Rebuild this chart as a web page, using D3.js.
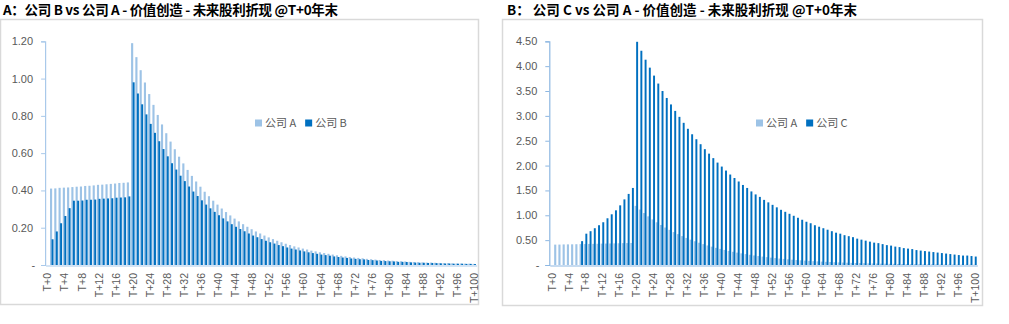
<!DOCTYPE html>
<html>
<head>
<meta charset="utf-8">
<script src="https://cdn.jsdelivr.net/npm/d3@7/dist/d3.min.js"></script>
<style>
  html, body { margin: 0; padding: 0; background: #ffffff; }
  svg { display: block; }
</style>
</head>
<body>
<svg id="chart" width="1009" height="324"></svg>
<script>
// ---------------- DATA ----------------
const categories = d3.range(0, 101).map(i => "T+" + i);
const xTickLabels = categories.filter((d, i) => i % 4 === 0);

const titleA = "A：公司 B vs 公司 A - 价值创造 - 未来股利折现 @T+0年末";
const titleB = "B：  公司 C vs 公司 A - 价值创造 - 未来股利折现 @T+0年末";

const yTicksA = [0, 0.2, 0.4, 0.6, 0.8, 1.0, 1.2];
const yTicksB = [0, 0.5, 1.0, 1.5, 2.0, 2.5, 3.0, 3.5, 4.0, 4.5];

const seriesNames = ["公司 A", "公司 B", "公司 C"];

// 公司 A
const valuesA = [null,
  0.410,0.411,0.414,0.415,0.416,0.418,0.420,0.421,0.424,0.425,0.427,0.430,0.431,0.433,0.435,0.437,0.440,0.441,0.443,
  1.190,1.115,1.045,0.979,0.917,0.859,0.805,0.754,0.707,0.662,
  0.621,0.581,0.545,0.510,0.478,0.448,0.420,0.393,0.369,0.345,
  0.324,0.303,0.284,0.266,0.249,0.234,0.219,0.205,0.192,0.180,
  0.169,0.158,0.148,0.139,0.130,0.122,0.114,0.107,0.100,0.094,
  0.088,0.083,0.077,0.073,0.068,0.064,0.060,0.056,0.052,0.049,
  0.046,0.043,0.040,0.038,0.036,0.033,0.031,0.029,0.027,0.026,
  0.024,0.023,0.021,0.020,0.019,0.017,0.016,0.015,0.014,0.013,
  0.013,0.012,0.011,0.010,0.010,0.009,0.008,0.008,0.007,0.007,0.006];

// 公司 B
const valuesB = [null,
  0.138,0.180,0.224,0.263,0.305,0.345,0.345,0.346,0.350,0.350,0.351,0.355,0.356,0.357,0.358,0.361,0.362,0.363,0.368,
  0.980,0.920,0.862,0.808,0.757,0.709,0.664,0.622,0.583,0.546,
  0.512,0.479,0.450,0.421,0.394,0.370,0.347,0.324,0.304,0.285,
  0.267,0.250,0.234,0.219,0.205,0.193,0.181,0.169,0.158,0.149,
  0.139,0.130,0.122,0.115,0.107,0.101,0.094,0.088,0.083,0.078,
  0.073,0.068,0.064,0.060,0.056,0.053,0.050,0.046,0.043,0.040,
  0.038,0.035,0.033,0.031,0.030,0.027,0.026,0.024,0.022,0.021,
  0.020,0.019,0.017,0.017,0.016,0.014,0.013,0.012,0.012,0.011,
  0.011,0.010,0.009,0.008,0.008,0.007,0.007,0.007,0.006,0.006,0.005];

// 公司 C
const valuesC = [null,null,null,null,null,null,null,
  0.48,0.63,0.68,0.74,0.80,0.86,0.94,1.02,1.10,1.20,1.32,1.43,1.55,
  4.49,4.31,4.13,3.97,3.81,3.65,3.50,3.36,3.23,3.10,
  2.98,2.86,2.74,2.63,2.53,2.43,2.33,2.24,2.15,2.06,
  1.98,1.90,1.82,1.75,1.68,1.61,1.55,1.48,1.42,1.37,
  1.31,1.26,1.21,1.16,1.11,1.07,1.03,0.99,0.95,0.91,
  0.87,0.84,0.80,0.77,0.74,0.71,0.68,0.65,0.63,0.60,
  0.58,0.56,0.53,0.51,0.49,0.47,0.45,0.44,0.42,0.40,
  0.39,0.37,0.36,0.34,0.33,0.32,0.30,0.29,0.28,0.27,
  0.26,0.25,0.24,0.23,0.22,0.21,0.20,0.19,0.19,0.18,0.17];

// ---------------- STYLE ----------------
const LIGHT = "#9dc3e6";
const DARK = "#0070c0";
const TEXT_GRAY = "#595959";
const FRAME = "#d9d9d9";
const FONT = "'Liberation Sans', 'Noto Sans CJK SC', sans-serif";
const CJK = "'Noto Sans CJK SC', 'Liberation Sans', sans-serif";

const svg = d3.select("#chart");

function fmtTick(v) { return v === 0 ? "-" : d3.format(".2f")(v); }

function drawChart(cfg) {
  const g = svg.append("g");

  // frame
  g.append("rect")
    .attr("x", cfg.frame[0] + 0.5).attr("y", cfg.frame[1] + 0.5)
    .attr("width", cfg.frame[2] - cfg.frame[0]).attr("height", cfg.frame[3] - cfg.frame[1])
    .attr("fill", "none").attr("stroke", FRAME).attr("stroke-width", 1.5);

  // title
  g.append("text")
    .attr("x", cfg.titleX).attr("y", 15)
    .attr("font-family", CJK).attr("font-size", 13.5).attr("font-weight", "bold")
    .attr("fill", "#000")
    .attr("textLength", cfg.titleW).attr("lengthAdjust", "spacing")
    .text(cfg.title);

  const x = d3.scaleBand().domain(categories).range(cfg.xRange).padding(0);
  const y = d3.scaleLinear().domain([0, cfg.yMax]).range([265, 41.3]);
  const step = x.bandwidth();

  // bars: first series (light) left, second (dark) right, overlapping slightly
  const s1 = cfg.series[0], s2 = cfg.series[1];
  const barsG = g.append("g");
  barsG.selectAll("rect.s1")
    .data(categories.map((c, i) => ({ c, v: s1.values[i] })).filter(d => d.v != null && d.v > 0))
    .join("rect")
    .attr("x", d => x(d.c) + step * 0.03)
    .attr("width", step * 0.50)
    .attr("y", d => y(d.v))
    .attr("height", d => y(0) - y(d.v))
    .attr("fill", s1.color);
  barsG.selectAll("rect.s2")
    .data(categories.map((c, i) => ({ c, v: s2.values[i] })).filter(d => d.v != null && d.v > 0))
    .join("rect")
    .attr("x", d => x(d.c) + step * 0.40)
    .attr("width", step * 0.46)
    .attr("y", d => y(d.v))
    .attr("height", d => y(0) - y(d.v))
    .attr("fill", s2.color);

  // y axis
  const yAxis = d3.axisLeft(y).tickValues(cfg.yTicks).tickSize(4).tickPadding(8).tickFormat(fmtTick);
  const ya = g.append("g").attr("transform", `translate(${cfg.xRange[0] - 0.5},0)`).call(yAxis);
  ya.select(".domain").attr("stroke", cfg.axisColor).attr("stroke-width", 1.2);
  ya.selectAll(".tick line").attr("stroke", cfg.axisColor);
  ya.selectAll(".tick text")
    .attr("font-family", FONT).attr("font-size", 11).attr("fill", TEXT_GRAY)
    .attr("dx", d => d === 0 ? 2 : 0);

  // x axis
  const xAxis = d3.axisBottom(x).tickValues(xTickLabels).tickSize(0).tickSizeOuter(0);
  const xa = g.append("g").attr("transform", "translate(0,265.5)").call(xAxis);
  xa.select(".domain").attr("stroke", cfg.axisColor).attr("stroke-width", 1);
  xa.selectAll(".tick text")
    .attr("font-family", FONT).attr("font-size", 10.5).attr("fill", TEXT_GRAY)
    .attr("transform", "rotate(-90)")
    .attr("text-anchor", "end")
    .attr("x", -7.5).attr("y", 0).attr("dy", "0.35em");

  // legend
  const lg = g.append("g").attr("transform", `translate(${cfg.legendX},123)`);
  let lx = 0;
  cfg.series.forEach((s, i) => {
    lg.append("rect").attr("x", lx).attr("y", -3.5).attr("width", 7).attr("height", 7).attr("fill", s.color);
    const t = lg.append("text").attr("x", lx + 10).attr("y", 0).attr("dy", "0.36em")
      .attr("font-family", CJK).attr("font-size", 11).attr("fill", TEXT_GRAY)
      .text(s.name);
    lx += 10 + t.node().getComputedTextLength() + 9;
  });
}

drawChart({
  frame: [0, 19, 478, 304],
  title: titleA, titleX: 3, titleW: 335,
  xRange: [45.6, 476.6],
  yMax: 1.2, yTicks: yTicksA,
  axisColor: "#a9c9ea",
  legendX: 255,
  series: [
    { name: seriesNames[0], values: valuesA, color: LIGHT },
    { name: seriesNames[1], values: valuesB, color: DARK }
  ]
});

drawChart({
  frame: [502, 19, 982, 305],
  title: titleB, titleX: 507, titleW: 350,
  xRange: [549.8, 977.3],
  yMax: 4.5, yTicks: yTicksB,
  axisColor: "#8db7e2",
  legendX: 756,
  series: [
    { name: seriesNames[0], values: valuesA, color: LIGHT },
    { name: seriesNames[2], values: valuesC, color: DARK }
  ]
});
</script>
</body>
</html>
